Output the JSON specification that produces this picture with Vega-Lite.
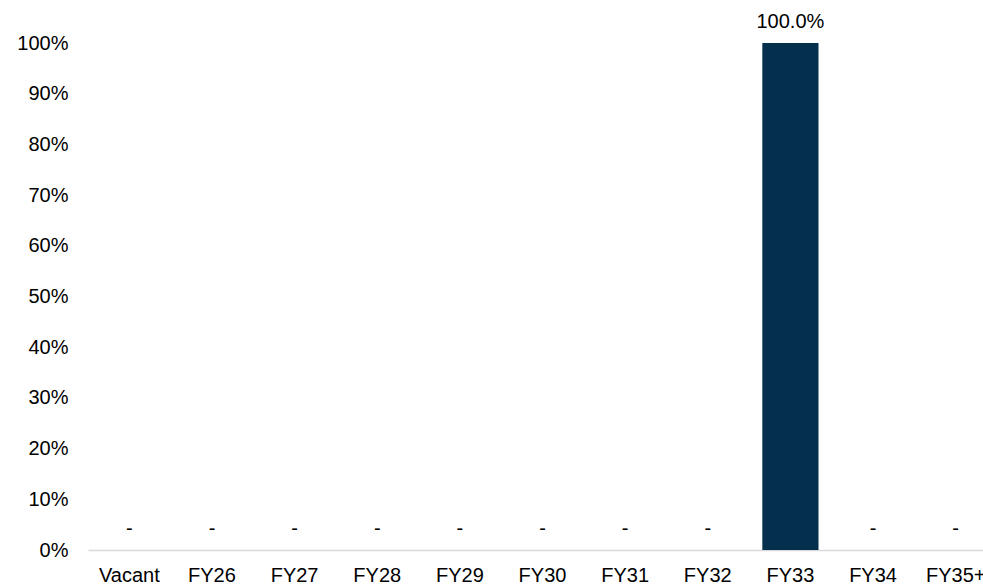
{
  "$schema": "https://vega.github.io/schema/vega-lite/v6.json",
  "autosize": "none",
  "padding": {"left": 88, "top": 43, "right": 0, "bottom": 34},
  "width": 909,
  "height": 507,
  "background": "white",
  "config": {
    "view": {"stroke": null},
    "font": "Liberation Sans",
    "axis": {"labelFont": "Liberation Sans", "labelFontSize": 20, "labelColor": "#000000", "grid": false, "ticks": false, "title": null}
  },
  "data": {
    "values": [
      {"period": "Vacant", "value": 0},
      {"period": "FY26", "value": 0},
      {"period": "FY27", "value": 0},
      {"period": "FY28", "value": 0},
      {"period": "FY29", "value": 0},
      {"period": "FY30", "value": 0},
      {"period": "FY31", "value": 0},
      {"period": "FY32", "value": 0},
      {"period": "FY33", "value": 1.0},
      {"period": "FY34", "value": 0},
      {"period": "FY35+", "value": 0}
    ]
  },
  "transform": [
    {"calculate": "datum.value == 0 ? '-' : format(datum.value, '.1%')", "as": "label"}
  ],
  "encoding": {
    "x": {
      "field": "period", "type": "nominal", "sort": null,
      "scale": {"paddingInner": 0.32, "paddingOuter": 0.16},
      "axis": {"labelAngle": 0, "domainColor": "#d9d9d9", "domainWidth": 1.5, "labelPadding": 15}
    },
    "y": {
      "field": "value", "type": "quantitative",
      "scale": {"domain": [0, 1], "nice": false},
      "axis": {"format": ".0%", "values": [0, 0.1, 0.2, 0.3, 0.4, 0.5, 0.6, 0.7, 0.8, 0.9, 1.0], "domain": false, "labelPadding": 20}
    }
  },
  "layer": [
    {"mark": {"type": "bar", "color": "#05304d"}},
    {"mark": {"type": "text", "baseline": "alphabetic", "dy": -15, "fontSize": 20, "font": "Liberation Sans", "color": "#000000"},
     "encoding": {"text": {"field": "label"}}}
  ]
}
